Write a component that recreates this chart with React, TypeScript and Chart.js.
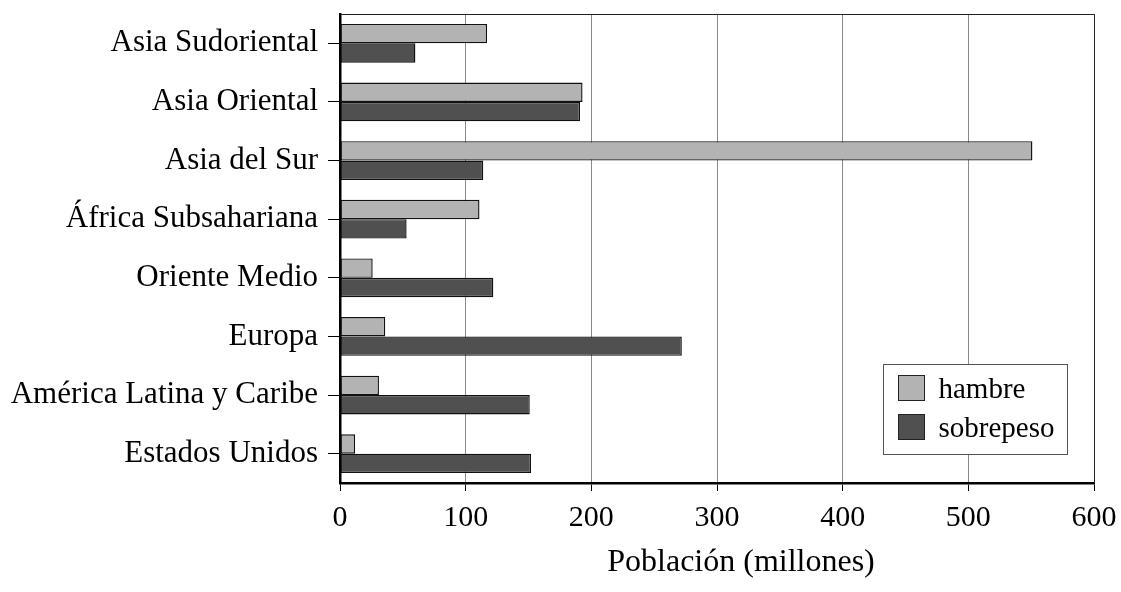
import React, { useEffect, useRef } from 'react';
import { Chart, registerables } from 'chart.js';

Chart.register(...registerables);

const categories = [
  'Asia Sudoriental',
  'Asia Oriental',
  'Asia del Sur',
  'África Subsahariana',
  'Oriente Medio',
  'Europa',
  'América Latina y Caribe',
  'Estados Unidos',
];
const hambre = [117, 193, 551, 111, 26, 36, 31, 12];
const sobrepeso = [60, 191, 114, 53, 122, 272, 151, 152];
const seriesNames = ['hambre', 'sobrepeso'];
const seriesColors = ['#b3b3b3', '#505050'];
const xMin = 0;
const xMax = 600;
const xStep = 100;
const axisTitle = 'Población (millones)';

const FONT = "'Liberation Serif', 'Times New Roman', serif";

const frameAndTitlePlugin = {
  id: 'frameAndTitle',
  afterDraw(chart: any) {
    const ctx = chart.ctx as CanvasRenderingContext2D;
    const { left, right, top, bottom } = chart.chartArea;
    ctx.save();
    // top and right frame lines
    ctx.strokeStyle = '#222';
    ctx.lineWidth = 1;
    ctx.beginPath();
    ctx.moveTo(left, top + 0.5);
    ctx.lineTo(right + 0.5, top + 0.5);
    ctx.lineTo(right + 0.5, bottom);
    ctx.stroke();

    // axis title
    ctx.fillStyle = '#000';
    ctx.font = `32px ${FONT}`;
    ctx.textAlign = 'center';
    ctx.textBaseline = 'middle';
    ctx.fillText(axisTitle, (left + right) / 2 + 24, bottom + 80);

    // legend box
    const bx = Math.round(right - 211) + 0.5;
    const by = Math.round(bottom - 119) + 0.5;
    const bw = 184;
    const bh = 90;
    ctx.fillStyle = '#fff';
    ctx.fillRect(bx, by, bw, bh);
    ctx.strokeStyle = '#555';
    ctx.lineWidth = 1;
    ctx.strokeRect(bx, by, bw, bh);
    chart.data.datasets.forEach((ds: any, i: number) => {
      const sx = bx + 15;
      const sy = by + 11 + i * 39;
      ctx.fillStyle = ds.backgroundColor;
      ctx.fillRect(sx, sy, 26, 25);
      ctx.strokeStyle = '#222';
      ctx.strokeRect(sx, sy, 26, 25);
      ctx.fillStyle = '#000';
      ctx.font = `29px ${FONT}`;
      ctx.textAlign = 'left';
      ctx.textBaseline = 'middle';
      ctx.fillText(ds.label, bx + 55, sy + 15);
    });
    ctx.restore();
  },
};

export default function App() {
  const canvasRef = useRef<HTMLCanvasElement | null>(null);

  useEffect(() => {
    document.body.style.margin = '0';
    const canvas = canvasRef.current;
    if (!canvas) return;
    const chart = new Chart(canvas, {
      type: 'bar',
      data: {
        labels: categories,
        datasets: [
          {
            label: seriesNames[0],
            data: hambre,
            backgroundColor: seriesColors[0],
            borderColor: '#111',
            borderWidth: 1.4,
            borderSkipped: false,
            categoryPercentage: 0.66,
            barPercentage: 1.0,
          },
          {
            label: seriesNames[1],
            data: sobrepeso,
            backgroundColor: seriesColors[1],
            borderColor: '#111',
            borderWidth: 1.4,
            borderSkipped: false,
            categoryPercentage: 0.66,
            barPercentage: 1.0,
          },
        ],
      },
      options: {
        indexAxis: 'y',
        animation: false,
        responsive: false,
        maintainAspectRatio: false,
        layout: { padding: { top: 14, right: 27, left: 0, bottom: 0 } },
        plugins: {
          legend: { display: false },
          tooltip: { enabled: false },
        },
        scales: {
          x: {
            type: 'linear',
            position: 'bottom',
            min: xMin,
            max: xMax,
            ticks: {
              stepSize: xStep,
              color: '#000',
              font: { family: FONT, size: 30 },
              padding: 9,
              maxRotation: 0,
            },
            grid: {
              color: '#8a8a8a',
              lineWidth: 1,
              tickLength: 8,
              tickColor: '#000',
            },
            border: { display: true, color: '#000', width: 2.5 },
            afterFit: (scale: any) => {
              scale.height = 109;
              scale.paddingLeft = 0;
              scale.paddingRight = 0;
            },
          },
          y: {
            type: 'category',
            position: 'left',
            ticks: {
              color: '#000',
              font: { family: FONT, size: 31 },
              padding: 10,
            },
            grid: {
              drawOnChartArea: false,
              drawTicks: true,
              tickLength: 12,
              tickColor: '#000',
              offset: false,
            },
            border: { display: true, color: '#000', width: 2.5 },
            afterFit: (scale: any) => {
              scale.width = 340;
              scale.paddingTop = 0;
              scale.paddingBottom = 0;
            },
          },
        },
      },
      plugins: [frameAndTitlePlugin],
    });
    return () => chart.destroy();
  }, []);

  return (
    <div style={{ position: 'absolute', left: 0, top: 0, width: 1121, height: 592 }}>
      <canvas ref={canvasRef} width={1121} height={592} />
    </div>
  );
}
